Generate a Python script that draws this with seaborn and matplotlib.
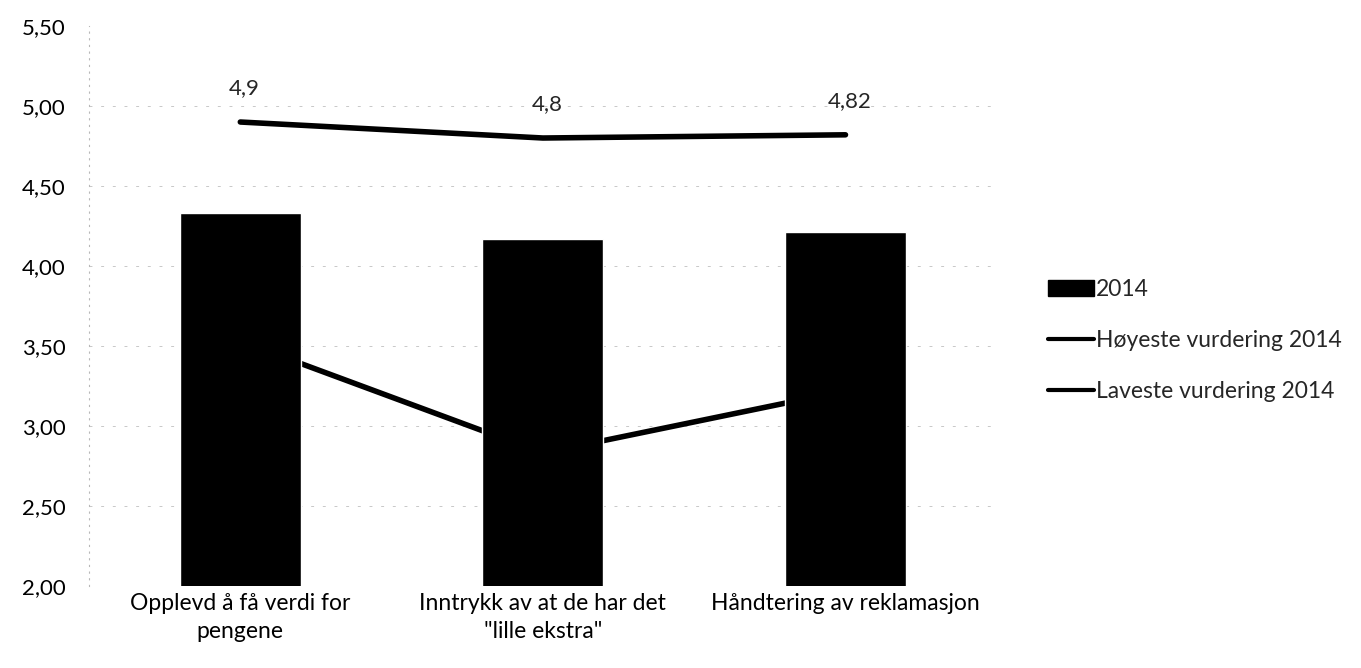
import pandas as pd
import seaborn as sns
import matplotlib.pyplot as plt
from matplotlib.ticker import FuncFormatter, MultipleLocator
from matplotlib.patches import Patch
from matplotlib.lines import Line2D

# values
categories = ['Opplevd å få verdi for\npengene',
              'Inntrykk av at de har det\n"lille ekstra"',
              'Håndtering av reklamasjon']
snitt_2014 = [4.33, 4.17, 4.21]
hoyeste_2014 = [4.9, 4.8, 4.82]
laveste_2014 = [3.53, 2.83, 3.22]
hoyeste_labels = ['4,9', '4,8', '4,82']

df = pd.DataFrame({'kategori': categories, 'snitt': snitt_2014,
                   'hoy': hoyeste_2014, 'lav': laveste_2014})

sns.set_style('white')
plt.rcParams['font.family'] = ['Lato', 'DejaVu Sans']

fig = plt.figure(figsize=(13.61, 6.68), dpi=100)
ax = fig.add_axes([0.0654, 0.123, 0.667, 0.838])

# faint dashed grid like the scan
for v in [2.5, 3.0, 3.5, 4.0, 4.5, 5.0]:
    ax.axhline(v, color='#c8c8c8', lw=0.7, ls=(0, (3, 9)), zorder=0)

sns.lineplot(data=df, x='kategori', y='lav', color='black', lw=4,
             ax=ax, zorder=1, sort=False)
sns.barplot(data=df, x='kategori', y='snitt', color='black', width=0.4,
            saturation=1, ax=ax, zorder=2)
sns.lineplot(data=df, x='kategori', y='hoy', color='black', lw=4,
             ax=ax, zorder=3, sort=False)

for i, (v, lab) in enumerate(zip(hoyeste_2014, hoyeste_labels)):
    ax.annotate(lab, (i, v), xytext=(3, 17), textcoords='offset points',
                ha='center', va='bottom', fontsize=16)

ax.set_xlim(-0.5, 2.5)
ax.set_ylim(2.0, 5.5)
ax.yaxis.set_major_locator(MultipleLocator(0.5))
ax.yaxis.set_major_formatter(FuncFormatter(lambda v, p: f'{v:.2f}'.replace('.', ',')))
ax.set_xlabel('')
ax.set_ylabel('')
ax.tick_params(axis='both', length=0, colors='black')
ax.tick_params(axis='y', pad=17, labelsize=16)
ax.tick_params(axis='x', pad=5, labelsize=16.5)
for t in ax.get_xticklabels():
    t.set_linespacing(1.45)

for s in ['top', 'right', 'bottom']:
    ax.spines[s].set_visible(False)
ax.spines['left'].set_color('#b8b8b8')
ax.spines['left'].set_linestyle((0, (1, 5)))
ax.spines['left'].set_linewidth(0.8)

handles = [Patch(facecolor='black', edgecolor='black'),
           Line2D([], [], color='black', lw=3),
           Line2D([], [], color='black', lw=3)]
labels = ['2014', 'Høyeste vurdering 2014', 'Laveste vurdering 2014']
fig.legend(handles, labels, loc='center left', bbox_to_anchor=(0.755, 0.49),
           frameon=False, fontsize=16.5, handlelength=2.0, handletextpad=0.1,
           labelspacing=1.3, handleheight=0.7)

fig.savefig('out.png', dpi=100)
